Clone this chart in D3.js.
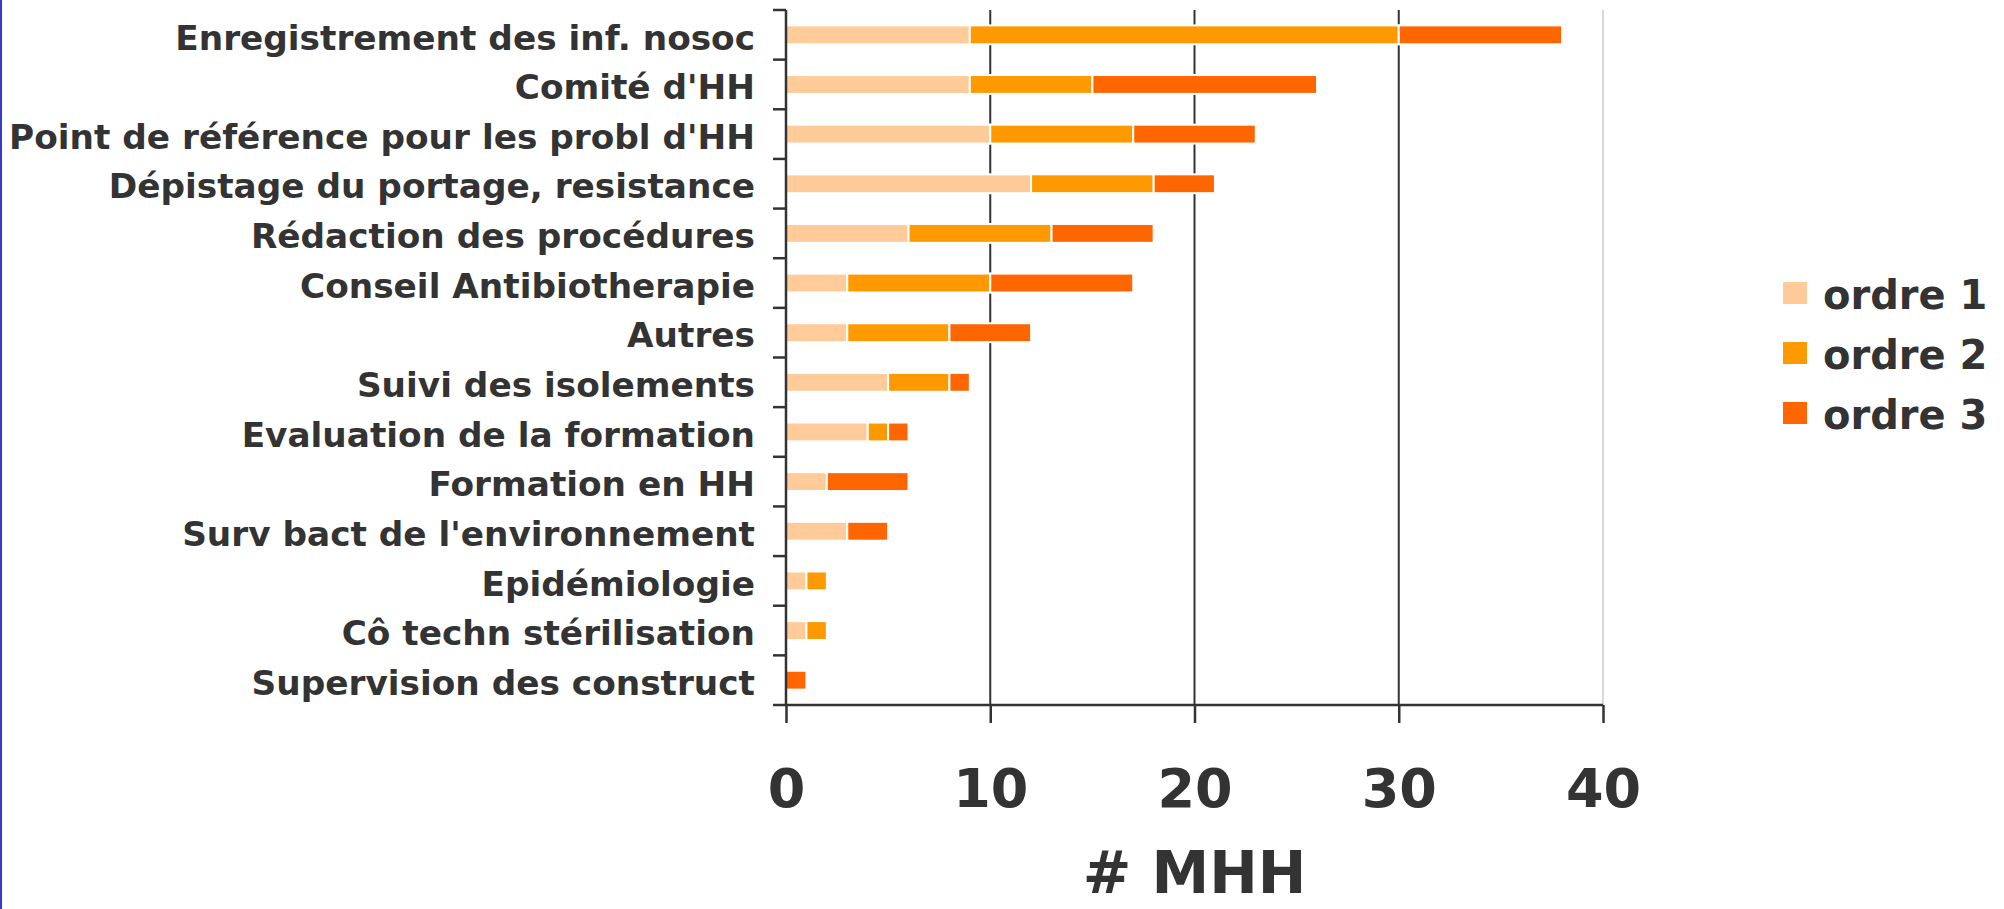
<!DOCTYPE html>
<html>
<head>
<meta charset="utf-8">
<script src="https://cdn.jsdelivr.net/npm/d3@7"></script>
<style>
  html, body { margin: 0; padding: 0; background: #fff; }
  svg { display: block; }
  text { font-family: "DejaVu Sans", Verdana, sans-serif; font-weight: bold; fill: #333333; }
</style>
</head>
<body>
<svg id="chart" width="2004" height="909"></svg>
<script>
const categories = [
  "Enregistrement des inf. nosoc",
  "Comité d'HH",
  "Point de référence pour les probl d'HH",
  "Dépistage du portage, resistance",
  "Rédaction des procédures",
  "Conseil Antibiotherapie",
  "Autres",
  "Suivi des isolements",
  "Evaluation de la formation",
  "Formation en HH",
  "Surv bact de l'environnement",
  "Epidémiologie",
  "Cô techn stérilisation",
  "Supervision des construct"
];
const ordre1 = [9, 9, 10, 12, 6, 3, 3, 5, 4, 2, 3, 1, 1, 0];
const ordre2 = [21, 6, 7, 6, 7, 7, 5, 3, 1, 0, 0, 1, 1, 0];
const ordre3 = [8, 11, 6, 3, 5, 7, 4, 1, 1, 4, 2, 0, 0, 1];
const seriesNames = ["ordre 1", "ordre 2", "ordre 3"];
const seriesColors = ["#FFCC99", "#FF9900", "#FF6600"];
const xTicks = [0, 10, 20, 30, 40];
const xTitle = "# MHH";

(function () {
const svg = d3.select("#chart");

// left blue border
svg.append("rect").attr("x", 0).attr("y", 0).attr("width", 2).attr("height", 909).attr("fill", "#3a3ac8");

const pLeft = 786, pRight = 1603, pTop = 10, pBottom = 705;

const x = d3.scaleLinear().domain([0, 40]).range([pLeft, pRight]);
const yBand = d3.scaleBand().domain(categories).range([pTop, pBottom]).padding(0);
const yBar = d3.scaleBand().domain(categories).range([pTop, pBottom]).paddingInner(0.62).paddingOuter(0.31);

// plot area right border
svg.append("line")
  .attr("x1", x(40)).attr("x2", x(40)).attr("y1", pTop).attr("y2", pBottom)
  .attr("stroke", "#cccccc").attr("stroke-width", 1.5);

// gridlines
svg.append("g").selectAll("line").data([10, 20, 30]).join("line")
  .attr("x1", d => x(d)).attr("x2", d => x(d))
  .attr("y1", pTop).attr("y2", pBottom)
  .attr("stroke", "#333333").attr("stroke-width", 2);

// stacked bars
const rows = categories.map((c, i) => ({ cat: c, ordre1: ordre1[i], ordre2: ordre2[i], ordre3: ordre3[i] }));
const stack = d3.stack().keys(["ordre1", "ordre2", "ordre3"]);
const stacked = stack(rows);

svg.append("g").selectAll("g").data(stacked).join("g")
  .attr("fill", (d, i) => seriesColors[i])
  .selectAll("rect").data(d => d.filter(s => s[1] - s[0] > 0)).join("rect")
  .attr("x", d => x(d[0]))
  .attr("width", d => x(d[1]) - x(d[0]))
  .attr("y", d => yBar(d.data.cat))
  .attr("height", yBar.bandwidth())
  .attr("stroke", "#ffffff").attr("stroke-width", 2);

// y axis line and boundary ticks
const yAxisG = svg.append("g");
yAxisG.append("line")
  .attr("x1", pLeft).attr("x2", pLeft).attr("y1", pTop).attr("y2", pBottom)
  .attr("stroke", "#333333").attr("stroke-width", 2.5);
const boundaries = categories.map(c => yBand(c)).concat([yBand(categories[categories.length - 1]) + yBand.bandwidth()]);
yAxisG.selectAll("line.tick").data(boundaries).join("line")
  .attr("class", "tick")
  .attr("x1", pLeft - 13).attr("x2", pLeft)
  .attr("y1", d => d).attr("y2", d => d)
  .attr("stroke", "#333333").attr("stroke-width", 2.5);

// category labels
yAxisG.selectAll("text").data(categories).join("text")
  .attr("x", 755)
  .attr("y", d => yBand(d) + yBand.bandwidth() / 2)
  .attr("dy", "0.43em")
  .attr("text-anchor", "end")
  .attr("font-size", 34.3)
  .text(d => d);

// x axis
const xAxis = d3.axisBottom(x).tickValues(xTicks).tickSize(18).tickPadding(46).tickFormat(d3.format("d"));
const xg = svg.append("g").attr("transform", `translate(0,${pBottom})`).call(xAxis);
xg.select(".domain").attr("stroke", "#333333").attr("stroke-width", 2.5).attr("d", `M${pLeft},0H${pRight}`);
xg.selectAll(".tick line").attr("stroke", "#333333").attr("stroke-width", 2.5);
xg.selectAll(".tick text")
  .attr("font-size", 54)
  .attr("font-family", "'DejaVu Sans', Verdana, sans-serif")
  .attr("font-weight", "bold")
  .attr("fill", "#333333");

// x title
svg.append("text")
  .attr("x", (pLeft + pRight) / 2)
  .attr("y", 893)
  .attr("text-anchor", "middle")
  .attr("font-size", 58)
  .text(xTitle);

// legend
const legend = svg.append("g").selectAll("g").data(seriesNames).join("g")
  .attr("transform", (d, i) => `translate(1783, ${282 + i * 60})`);
legend.append("rect")
  .attr("width", 24).attr("height", 22)
  .attr("fill", (d, i) => seriesColors[i]);
legend.append("text")
  .attr("x", 40).attr("y", 27)
  .attr("font-size", 40)
  .text(d => d);
})();
</script>
</body>
</html>
